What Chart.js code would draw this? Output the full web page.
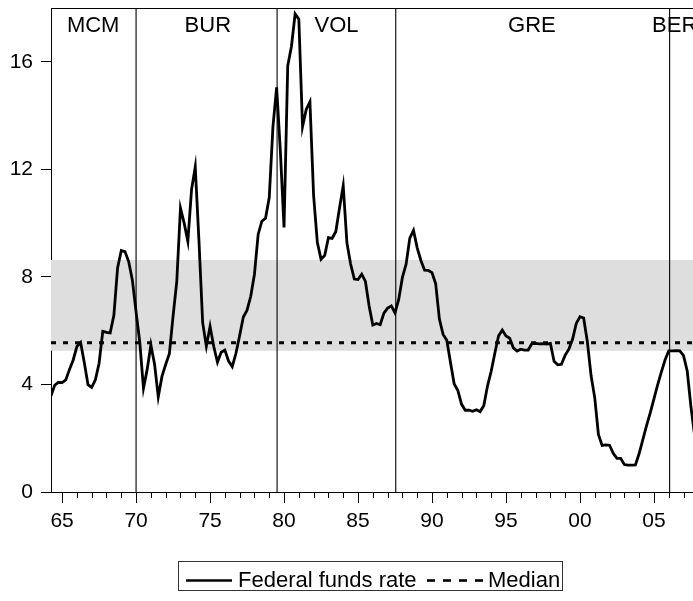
<!DOCTYPE html>
<html>
<head>
<meta charset="utf-8">
<script src="https://cdn.jsdelivr.net/npm/chart.js@4.4.1/dist/chart.umd.min.js"></script>
<style>
html, body { margin: 0; padding: 0; background: #fff; }
#wrap { width: 693px; height: 601px; }
</style>
</head>
<body>
<div id="wrap"><canvas id="grafico" width="693" height="601"></canvas></div>
<script>
// taxa dos fed funds, media trimestral, primeiro ponto em 64.25 (um ponto a cada 0.25)
var xInicio = 64.25;
var passo = 0.25;
var taxa = [
    3.58,
    3.97, 4.08, 4.07, 4.17,
    4.56, 4.91, 5.41, 5.56,
    4.82, 3.99, 3.89, 4.17,
    4.79, 5.98, 5.94, 5.92,
    6.57, 8.33, 8.98, 8.94,
    8.57, 7.88, 6.70, 5.57,
    3.86, 4.56, 5.47, 4.75,
    3.54, 4.30, 4.74, 5.14,
    6.54, 7.82, 10.56, 10.00,
    9.32, 11.25, 12.09, 9.35,
    6.30, 5.42, 6.16, 5.41,
    4.83, 5.20, 5.28, 4.87,
    4.66, 5.16, 5.82, 6.51,
    6.76, 7.28, 8.10, 9.58,
    10.07, 10.18, 10.95, 13.58,
    15.05, 12.69, 9.84, 15.85,
    16.57, 17.78, 17.58, 13.59,
    14.23, 14.51, 11.01, 9.29,
    8.65, 8.80, 9.46, 9.43,
    9.69, 10.56, 11.39, 9.27,
    8.48, 7.92, 7.90, 8.10,
    7.83, 6.92, 6.21, 6.27,
    6.22, 6.65, 6.84, 6.92,
    6.66, 7.16, 7.98, 8.47,
    9.44, 9.73, 9.08, 8.61,
    8.25, 8.24, 8.16, 7.74,
    6.43, 5.86, 5.64, 4.82,
    4.02, 3.77, 3.26, 3.04,
    3.04, 3.00, 3.06, 2.99,
    3.21, 3.94, 4.49, 5.17,
    5.81, 6.02, 5.80, 5.72,
    5.36, 5.24, 5.31, 5.28,
    5.28, 5.52, 5.53, 5.51,
    5.52, 5.50, 5.53, 4.86,
    4.73, 4.75, 5.09, 5.31,
    5.68, 6.27, 6.52, 6.47,
    5.59, 4.33, 3.50, 2.13,
    1.73, 1.75, 1.74, 1.44,
    1.25, 1.25, 1.02, 1.00,
    1.00, 1.01, 1.43, 1.95,
    2.47, 2.94, 3.46, 3.98,
    4.46, 4.91, 5.25, 5.25,
    5.26, 5.25, 5.07, 4.50,
    3.18, 2.09
];

var mediana = 5.55;
var faixaBaixa = 5.25;
var faixaAlta = 8.63;

// presidentes do Fed
var presidentes = ["MCM", "BUR", "VOL", "GRE", "BER"];
var posRotulo = [67.1, 74.85, 83.55, 96.75, 106.4];
var inicioMandato = [70.0, 79.53, 87.55, 106.06];

var anosRotulo = [65, 70, 75, 80, 85, 90, 95, 100, 105];
var yTicks = [0, 4, 8, 12, 16];
var xMin = 64.25;
var xMax = 107.64;

var fonte = '"Liberation Sans", Arial, Helvetica, sans-serif';

var pontosTaxa = taxa.map(function(v, i) {
    return { x: xInicio + i * passo, y: v };
});

var datasets = [];
datasets.push({
    label: "Federal funds rate",
    data: pontosTaxa,
    borderColor: "#000",
    borderWidth: 2.8,
    fill: false,
    order: 0
});
datasets.push({
    label: "Median",
    data: [{ x: xMin, y: mediana }, { x: xMax, y: mediana }],
    borderColor: "#000",
    borderWidth: 2.8,
    borderDash: [5, 7],
    fill: false,
    order: 1
});
inicioMandato.forEach(function(v) {
    datasets.push({
        data: [{ x: v, y: 0 }, { x: v, y: 18 }],
        borderColor: "#000",
        borderWidth: 1.1,
        fill: false,
        order: 2
    });
});
datasets.push({
    data: [{ x: xMin, y: faixaAlta }, { x: xMax, y: faixaAlta }],
    borderWidth: 0,
    borderColor: "rgba(0,0,0,0)",
    backgroundColor: "#dedede",
    fill: { value: faixaBaixa },
    order: 3
});

// moldura, marcas do eixo x, nomes dos presidentes e legenda
var molduraPlugin = {
    id: 'moldura',
    afterDraw: function(chart) {
        var c = chart.ctx;
        var a = chart.chartArea;
        var sx = chart.scales.x;
        c.save();
        c.strokeStyle = "#000";
        c.lineWidth = 1;
        c.beginPath();
        c.moveTo(a.left, a.top + 0.5);
        c.lineTo(a.right, a.top + 0.5);
        c.stroke();

        for (var ano = 65; ano <= 107; ano++) {
            var px = Math.round(sx.getPixelForValue(ano)) + 0.5;
            var len = (ano % 5 === 0) ? 11 : 6;
            c.beginPath();
            c.moveTo(px, a.bottom);
            c.lineTo(px, a.bottom + len);
            c.stroke();
        }

        c.fillStyle = "#000";
        c.font = "22px " + fonte;
        c.textAlign = "center";
        c.textBaseline = "alphabetic";
        presidentes.forEach(function(p, i) {
            c.fillText(p, sx.getPixelForValue(posRotulo[i]), a.top + 24);
        });

        // legenda
        c.lineWidth = 1;
        c.strokeStyle = "#333";
        c.strokeRect(178.5, 561.5, 384, 29);
        c.strokeStyle = "#000";
        c.lineWidth = 2.6;
        c.beginPath();
        c.moveTo(186, 580.5);
        c.lineTo(232, 580.5);
        c.stroke();
        c.setLineDash([8, 8]);
        c.beginPath();
        c.moveTo(427, 580.5);
        c.lineTo(484, 580.5);
        c.stroke();
        c.setLineDash([]);
        c.textAlign = "left";
        c.fillText("Federal funds rate", 238, 587);
        c.fillText("Median", 488, 587);
        c.restore();
    }
};

var ctx = document.getElementById('grafico').getContext('2d');
var grafico = new Chart(ctx, {
    type: 'line',
    data: { datasets: datasets },
    options: {
        responsive: false,
        animation: false,
        layout: { padding: { top: 8, right: 0, bottom: 69, left: 0 } },
        plugins: {
            legend: { display: false },
            tooltip: { enabled: false }
        },
        elements: {
            point: { radius: 0 },
            line: { tension: 0 }
        },
        scales: {
            x: {
                type: 'linear',
                bounds: 'data',
                min: xMin,
                max: xMax,
                afterBuildTicks: function(s) {
                    s.ticks = anosRotulo.map(function(v) { return { value: v }; });
                },
                afterFit: function(s) {
                    s.height = 40;
                    s.paddingLeft = 0;
                    s.paddingRight = 0;
                },
                grid: { drawOnChartArea: false, drawTicks: false },
                border: { color: "#000", width: 1 },
                ticks: {
                    padding: 17,
                    maxRotation: 0,
                    autoSkip: false,
                    color: "#000",
                    font: { family: fonte, size: 21 },
                    callback: function(v) {
                        return String(v % 100).padStart(2, '0');
                    }
                }
            },
            y: {
                type: 'linear',
                bounds: 'data',
                min: 0,
                max: 18,
                afterBuildTicks: function(s) {
                    s.ticks = yTicks.map(function(v) { return { value: v }; });
                },
                afterFit: function(s) {
                    s.width = 51;
                    s.paddingTop = 0;
                    s.paddingBottom = 0;
                },
                grid: { drawOnChartArea: false, tickLength: 10, tickColor: "#000" },
                border: { color: "#000", width: 1 },
                ticks: {
                    padding: 8,
                    color: "#000",
                    font: { family: fonte, size: 21 }
                }
            }
        }
    },
    plugins: [molduraPlugin]
});
</script>
</body>
</html>
